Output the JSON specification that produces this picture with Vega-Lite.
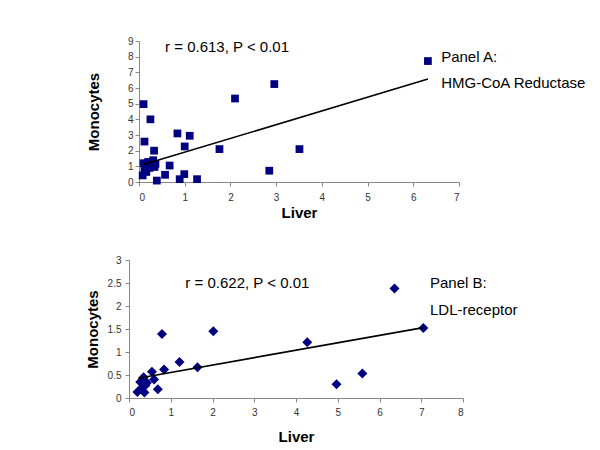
{
  "$schema": "https://vega.github.io/schema/vega-lite/v6.json",
  "background": "white",
  "padding": {"top": 36, "left": 85, "right": 5, "bottom": 5},
  "spacing": 35,
  "config": {
    "view": {"stroke": null},
    "font": "Liberation Sans",
    "axis": {
      "grid": false,
      "domainColor": "#888888",
      "tickColor": "#888888",
      "tickSize": 4,
      "labelFont": "Liberation Sans",
      "labelFontSize": 10,
      "labelColor": "#333333",
      "titleFont": "Liberation Sans",
      "titleFontSize": 15,
      "titleFontWeight": "bold",
      "titleColor": "#000000"
    }
  },
  "datasets": {
    "a": [
      {"liver": 6.32, "mono": 7.72}, {"liver": 2.96, "mono": 6.25}, {"liver": 2.10, "mono": 5.33},
      {"liver": 0.10, "mono": 4.97}, {"liver": 0.25, "mono": 4.0}, {"liver": 0.12, "mono": 2.58},
      {"liver": 0.84, "mono": 3.1}, {"liver": 1.11, "mono": 2.95}, {"liver": 0.33, "mono": 2.0},
      {"liver": 1.0, "mono": 2.27}, {"liver": 1.76, "mono": 2.1}, {"liver": 3.51, "mono": 2.1},
      {"liver": 2.85, "mono": 0.72}, {"liver": 1.27, "mono": 0.18}, {"liver": 0.89, "mono": 0.18},
      {"liver": 0.99, "mono": 0.5}, {"liver": 0.57, "mono": 0.46}, {"liver": 0.67, "mono": 1.05},
      {"liver": 0.39, "mono": 0.09}, {"liver": 0.08, "mono": 0.42}, {"liver": 0.16, "mono": 0.64},
      {"liver": 0.10, "mono": 1.2}, {"liver": 0.2, "mono": 1.28}, {"liver": 0.31, "mono": 1.39},
      {"liver": 0.34, "mono": 0.96}, {"liver": 0.23, "mono": 0.9}, {"liver": 0.12, "mono": 0.8},
      {"liver": 0.36, "mono": 1.15}
    ],
    "atrend": [{"liver": 0.08, "mono": 1.1}, {"liver": 6.32, "mono": 6.57}],
    "anotes": [
      {"liver": 0.57, "mono": 8.62, "label": "r = 0.613, P < 0.01"},
      {"liver": 6.61, "mono": 7.98, "label": "Panel A:"},
      {"liver": 6.61, "mono": 6.32, "label": "HMG-CoA Reductase"}
    ],
    "b": [
      {"liver": 6.36, "mono": 2.38}, {"liver": 7.05, "mono": 1.52}, {"liver": 2.02, "mono": 1.45},
      {"liver": 0.79, "mono": 1.39}, {"liver": 4.27, "mono": 1.21}, {"liver": 1.21, "mono": 0.78},
      {"liver": 1.64, "mono": 0.67}, {"liver": 0.84, "mono": 0.62}, {"liver": 5.59, "mono": 0.53},
      {"liver": 4.97, "mono": 0.30}, {"liver": 0.69, "mono": 0.19}, {"liver": 0.55, "mono": 0.57},
      {"liver": 0.6, "mono": 0.4}, {"liver": 0.35, "mono": 0.45}, {"liver": 0.43, "mono": 0.33},
      {"liver": 0.39, "mono": 0.27}, {"liver": 0.31, "mono": 0.23}, {"liver": 0.2, "mono": 0.13},
      {"liver": 0.37, "mono": 0.12}, {"liver": 0.27, "mono": 0.35}
    ],
    "btrend": [{"liver": 0.22, "mono": 0.43}, {"liver": 7.05, "mono": 1.53}],
    "bnotes": [
      {"liver": 1.35, "mono": 2.5, "label": "r = 0.622, P < 0.01"},
      {"liver": 7.21, "mono": 2.5, "label": "Panel B:"},
      {"liver": 7.21, "mono": 1.91, "label": "LDL-receptor"}
    ]
  },
  "vconcat": [
    {
      "width": 330,
      "height": 141,
      "encoding": {
        "x": {"field": "liver", "type": "quantitative", "title": "Liver",
              "scale": {"domain": [0, 7], "nice": false, "range": [10, 330]},
              "axis": {"values": [0,1,2,3,4,5,6,7], "labelPadding": 6, "titlePadding": 3}},
        "y": {"field": "mono", "type": "quantitative", "title": "Monocytes",
              "scale": {"domain": [0, 9], "nice": false},
              "axis": {"values": [0,1,2,3,4,5,6,7,8,9], "labelPadding": 2, "titlePadding": 26, "offset": -10}}
      },
      "layer": [
        {"data": {"name": "a"}, "mark": {"type": "square", "size": 60, "color": "#000080", "opacity": 1}},
        {"data": {"name": "atrend"}, "mark": {"type": "line", "color": "#000000", "strokeWidth": 1.6}},
        {"data": {"name": "anotes"}, "mark": {"type": "text", "align": "left", "baseline": "middle", "fontSize": 15, "color": "#000000", "font": "Liberation Sans"},
         "encoding": {"text": {"field": "label"}}}
      ]
    },
    {
      "width": 334,
      "height": 138,
      "encoding": {
        "x": {"field": "liver", "type": "quantitative", "title": "Liver",
              "scale": {"domain": [0, 8], "nice": false},
              "axis": {"values": [0,1,2,3,4,5,6,7,8], "labelPadding": 5, "titlePadding": 12}},
        "y": {"field": "mono", "type": "quantitative", "title": "Monocytes",
              "scale": {"domain": [0, 3], "nice": false},
              "axis": {"values": [0,0.5,1,1.5,2,2.5,3], "format": "~g", "labelPadding": 4, "titlePadding": 7}}
      },
      "layer": [
        {"data": {"name": "b"}, "mark": {"type": "point", "shape": "diamond", "filled": true, "size": 100, "color": "#000080", "opacity": 1}},
        {"data": {"name": "btrend"}, "mark": {"type": "line", "color": "#000000", "strokeWidth": 1.6}},
        {"data": {"name": "bnotes"}, "mark": {"type": "text", "align": "left", "baseline": "middle", "fontSize": 15, "color": "#000000", "font": "Liberation Sans"},
         "encoding": {"text": {"field": "label"}}}
      ]
    }
  ]
}
